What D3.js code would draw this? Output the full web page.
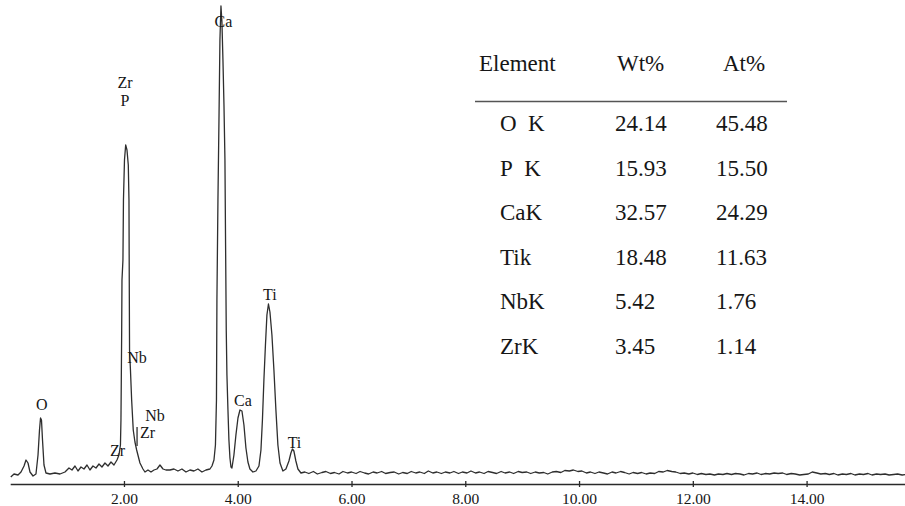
<!DOCTYPE html>
<html>
<head>
<meta charset="utf-8">
<script src="https://cdn.jsdelivr.net/npm/d3@7"></script>
<style>
  html, body { margin: 0; padding: 0; background: #fff; }
  svg { display: block; }
  svg text { font-family: "Liberation Serif", "Times New Roman", Tinos, serif; }
</style>
</head>
<body>
<div id="chart"></div>
<script>
// EDS spectrum, energy in keV vs counts
const spectrum = [
  [0.01,7],[0.067,10],[0.137,9],[0.19,12],[0.243,18],[0.278,24],[0.313,21],[0.348,12],
  [0.401,8],[0.453,10],[0.489,29],[0.515,54],[0.533,66],[0.55,64],[0.568,44],[0.594,19],
  [0.629,11],[0.699,10],[0.787,11],[0.875,10],[0.963,12],[1.033,16],[1.086,14],[1.139,18],
  [1.192,13],[1.244,17],[1.297,15],[1.35,19],[1.402,14],[1.455,18],[1.508,16],[1.561,20],
  [1.613,17],[1.666,21],[1.719,18],[1.772,22],[1.824,19],[1.877,24],[1.912,29],[1.938,39],
  [1.947,64],[1.953,104],[1.96,154],[1.965,204],[1.982,224],[1.991,284],[2.009,324],[2.03,339],
  [2.053,334],[2.076,319],[2.088,284],[2.093,204],[2.098,134],[2.114,114],[2.135,84],[2.163,54],
  [2.193,42],[2.223,34],[2.281,21],[2.334,15],[2.369,12],[2.422,14],[2.475,12],[2.528,14],
  [2.58,15],[2.633,19],[2.686,15],[2.738,14],[2.808,14],[2.879,15],[2.949,13],[3.019,15],
  [3.09,12],[3.16,14],[3.23,13],[3.3,15],[3.371,12],[3.441,14],[3.511,15],[3.547,18],
  [3.582,24],[3.608,39],[3.626,84],[3.634,184],[3.652,284],[3.67,364],[3.687,444],[3.705,478],
  [3.722,462],[3.74,424],[3.758,379],[3.775,324],[3.787,234],[3.798,154],[3.81,109],[3.828,74],
  [3.845,44],[3.863,26],[3.881,17],[3.898,16],[3.933,29],[3.968,49],[4.004,66],[4.039,74],
  [4.074,73],[4.109,59],[4.144,36],[4.179,22],[4.214,15],[4.267,12],[4.32,13],[4.373,18],
  [4.408,34],[4.434,64],[4.46,104],[4.487,139],[4.513,169],[4.54,180],[4.566,172],[4.601,149],
  [4.636,114],[4.671,74],[4.706,39],[4.743,21],[4.794,13],[4.847,15],[4.9,23],[4.935,31],
  [4.961,35],[4.987,33],[5.022,23],[5.058,15],[5.111,11],
  [5.18,12],[5.25,10.5],[5.33,12.5],[5.4,10],[5.48,11.5],[5.55,12.5],[5.63,10.5],[5.7,11.5],
  [5.78,10],[5.85,12.5],[5.93,11],[6.0,12],[6.08,10.5],[6.15,12.5],[6.23,11],[6.3,10],
  [6.38,12],[6.45,11],[6.53,12.5],[6.6,10.5],[6.68,11.5],[6.75,12],[6.83,10],[6.9,11.5],
  [6.98,10.5],[7.05,12.5],[7.13,11],[7.2,12],[7.28,10.5],[7.35,13],[7.43,11],[7.5,12],
  [7.58,10.5],[7.65,12],[7.73,11],[7.8,12.5],[7.88,10.5],[7.95,12],[8.03,11],[8.1,13],
  [8.18,11],[8.25,12],[8.33,10.5],[8.4,12.5],[8.48,11.5],[8.55,10.5],[8.63,12.5],[8.7,11],
  [8.78,12],[8.85,10.5],[8.93,12.5],[9.0,11.5],[9.08,12],[9.15,10.5],[9.23,12],[9.3,11],
  [9.38,11.5],[9.45,10],[9.53,12],[9.6,12.5],[9.68,11.5],[9.75,13.5],[9.83,13],[9.9,14],
  [9.98,12.5],[10.05,13],[10.13,11],[10.2,12],[10.28,10.5],[10.35,12],[10.43,11],[10.5,10],
  [10.58,12],[10.65,11],[10.73,12.5],[10.8,11.5],[10.88,10],[10.95,11.5],[11.03,10.5],[11.1,11.5],
  [11.18,10],[11.25,11],[11.33,10.5],[11.4,12.5],[11.48,12],[11.55,13.5],[11.63,12.5],[11.7,12],
  [11.78,10.5],[11.85,11],[11.93,10],[12.0,11],[12.08,9.5],[12.15,10.5],[12.23,9.5],[12.3,10],
  [12.38,9],[12.45,10],[12.53,9.5],[12.6,10.5],[12.68,9.5],[12.75,10.5],[12.83,10],[12.9,9],
  [12.98,10.5],[13.05,10],[13.13,11],[13.2,9.5],[13.28,10.5],[13.35,10],[13.43,11],[13.5,10.5],
  [13.58,11],[13.65,9.5],[13.73,10.5],[13.8,10],[13.88,9],[13.95,9.5],[14.03,10],[14.1,12],
  [14.18,11],[14.25,10],[14.33,10.5],[14.4,9.5],[14.48,10.5],[14.55,9],[14.63,10],[14.7,9.5],
  [14.78,10.5],[14.85,9],[14.93,10],[15.0,9.5],[15.08,10.5],[15.15,9],[15.23,10],[15.3,9.5],
  [15.38,10],[15.45,9],[15.53,9.5],[15.6,10],[15.68,9],[15.75,9.5]
];

// peak labels: text, energy (keV), count at the text baseline
const peakLabels = [
  ["O", 0.554, 74], ["Zr", 2.018, 396], ["P", 2.018, 378], ["Ca", 3.749, 457],
  ["Nb", 2.228, 121], ["Nb", 2.545, 63], ["Zr", 2.413, 46], ["Zr", 1.886, 28],
  ["Ca", 4.091, 78], ["Ti", 4.566, 184], ["Ti", 4.997, 36]
];
// short KLM marker line (keV, count from, count to)
const markers = [[2.23, 38, 57]];

const xTicks = [2, 4, 6, 8, 10, 12, 14];

// quantification table
const tableHeader = ["Element", "Wt%", "At%"];
const elements = ["O\u00a0\u00a0K", "P\u00a0\u00a0K", "CaK", "Tik", "NbK", "ZrK"];
const wtPct = ["24.14", "15.93", "32.57", "18.48", "5.42", "3.45"];
const atPct = ["45.48", "15.50", "24.29", "11.63", "1.76", "1.14"];

const width = 905, height = 506;
const ink = "#161616";
const serif = "'Liberation Serif', 'Times New Roman', Tinos, serif";

const svg = d3.select("#chart").append("svg")
  .attr("width", width)
  .attr("height", height);

const x = d3.scaleLinear().domain([0, 15.73]).range([10.2, 905]);
const y = d3.scaleLinear().domain([0, 480]).range([484, 4]);

// axis
const axis = d3.axisBottom(x)
  .tickValues(xTicks)
  .tickFormat(d3.format(".2f"))
  .tickSizeOuter(0)
  .tickSizeInner(3);

const gx = svg.append("g")
  .attr("transform", `translate(0,${y(0)})`)
  .call(axis)
  .attr("font-family", serif)
  .attr("font-size", 15.5);
gx.select(".domain").attr("stroke", "#2a2a2a").attr("stroke-width", 1.6);
gx.selectAll(".tick line").attr("y1", -3).attr("y2", 3).attr("stroke", "#2a2a2a").attr("stroke-width", 1.3);
gx.selectAll(".tick text")
  .attr("y", 9)
  .attr("fill", ink);

// spectrum
const line = d3.line()
  .x(d => x(d[0]))
  .y(d => y(d[1]));

svg.append("path")
  .datum(spectrum)
  .attr("d", line)
  .attr("fill", "none")
  .attr("stroke", "#2e2e2e")
  .attr("stroke-width", 1.3)
  .attr("stroke-linejoin", "round");

svg.selectAll(".marker")
  .data(markers)
  .join("line")
  .attr("class", "marker")
  .attr("x1", d => x(d[0])).attr("x2", d => x(d[0]))
  .attr("y1", d => y(d[1])).attr("y2", d => y(d[2]))
  .attr("stroke", "#2e2e2e")
  .attr("stroke-width", 1.3);

svg.selectAll(".peak-label")
  .data(peakLabels)
  .join("text")
  .attr("class", "peak-label")
  .attr("x", d => x(d[1]))
  .attr("y", d => y(d[2]))
  .attr("text-anchor", "middle")
  .attr("fill", ink)
  .attr("font-family", serif)
  .attr("font-size", 16)
  .text(d => d[0]);

// table
const rowY = d3.scalePoint().domain(elements).range([131, 353.5]);
const colX = [500, 615, 716];
const headX = [479, 617, 723];

const table = svg.append("g")
  .attr("fill", ink)
  .attr("font-family", serif)
  .attr("font-size", 23);

table.selectAll(".head")
  .data(tableHeader)
  .join("text")
  .attr("class", "head")
  .attr("x", (d, i) => headX[i])
  .attr("y", 71)
  .text(d => d);

table.append("line")
  .attr("x1", 475).attr("x2", 787)
  .attr("y1", 101.5).attr("y2", 101.5)
  .attr("stroke", "#555")
  .attr("stroke-width", 1.6);

const rows = table.selectAll(".row")
  .data(elements.map((e, i) => [e, wtPct[i], atPct[i]]))
  .join("g")
  .attr("class", "row")
  .attr("transform", d => `translate(0,${rowY(d[0])})`);

rows.selectAll("text")
  .data(d => d)
  .join("text")
  .attr("x", (d, i) => colX[i])
  .text(d => d);
</script>
</body>
</html>
